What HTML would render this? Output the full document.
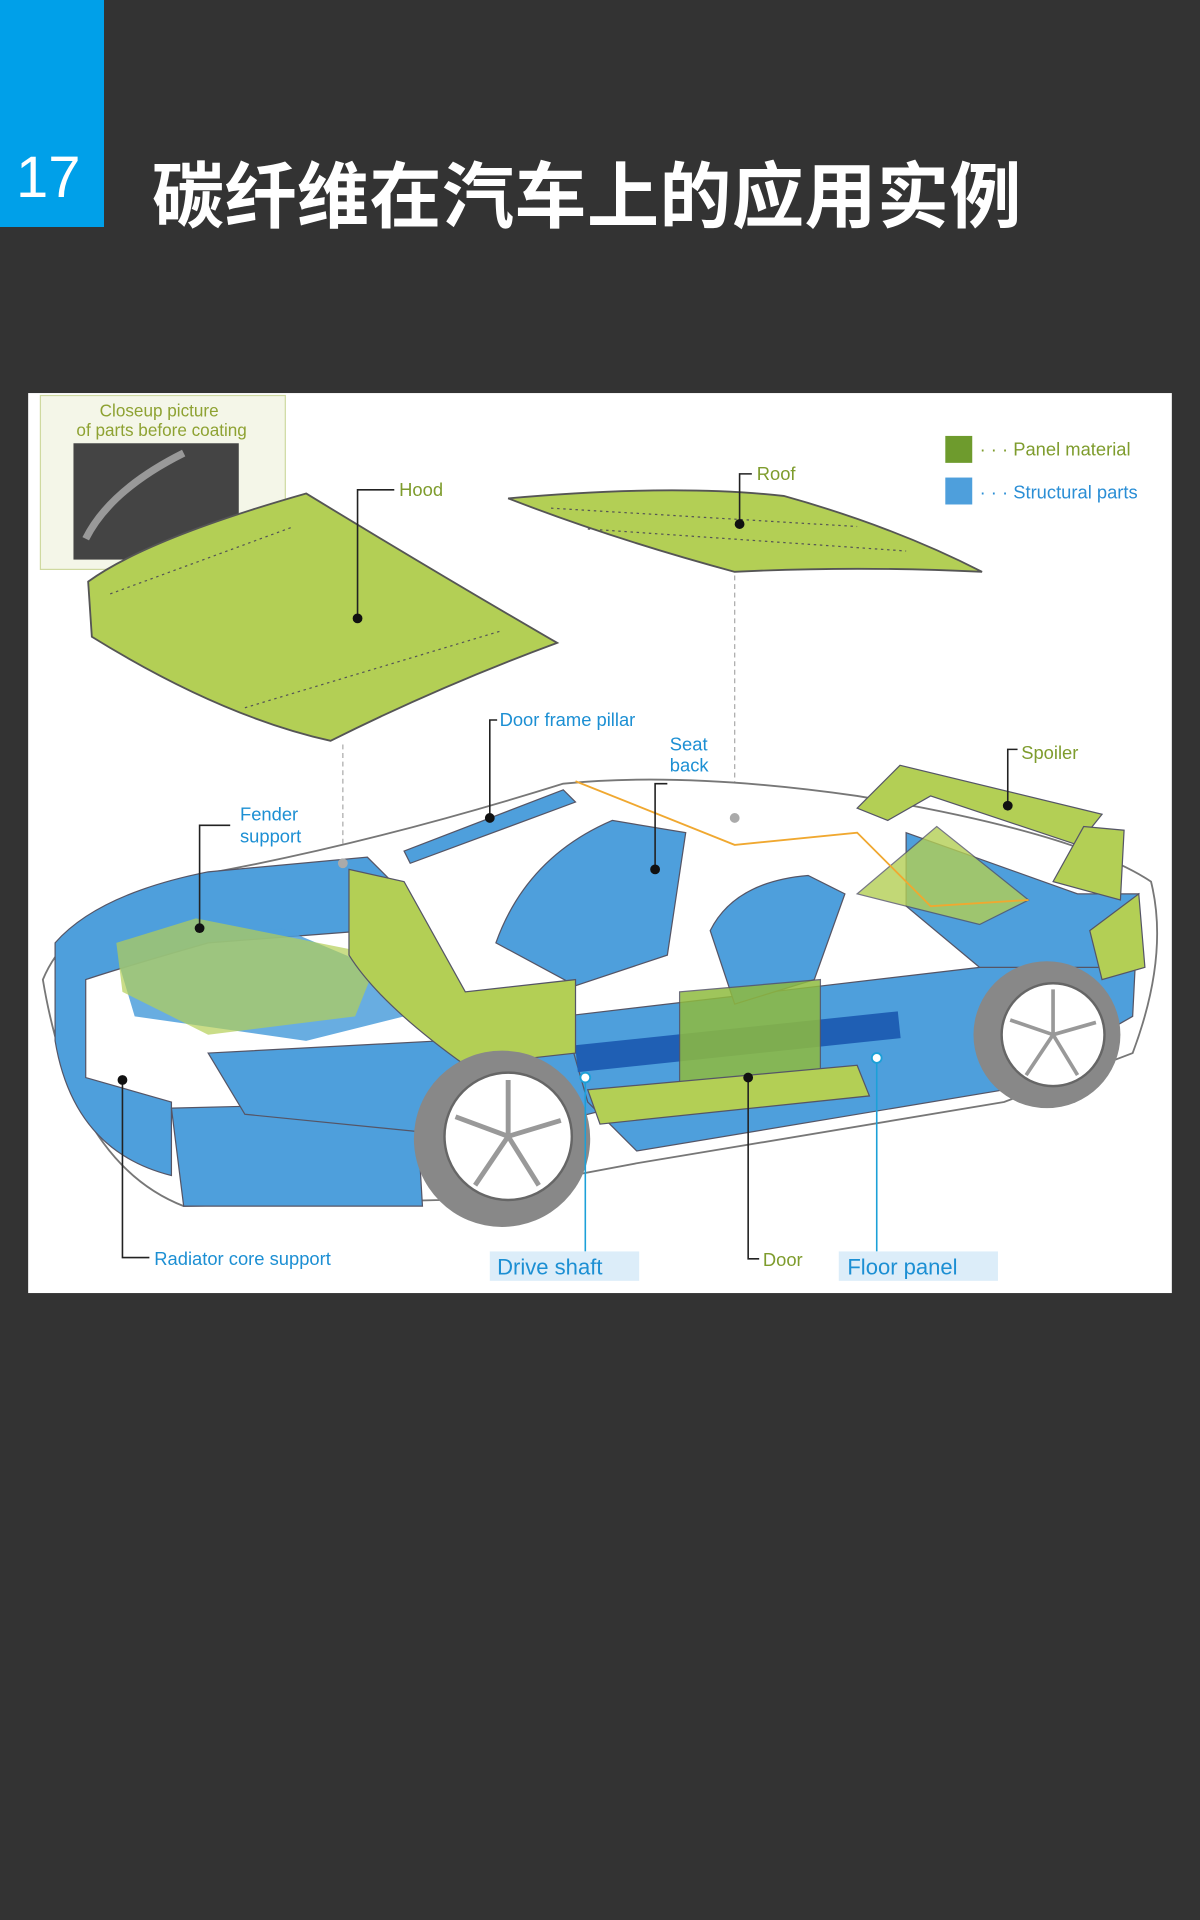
<!DOCTYPE html>
<html><head><meta charset="utf-8"><style>
html,body{margin:0;padding:0}
body{width:1200px;height:1920px;background:#333333;position:relative;overflow:hidden;font-family:"Liberation Sans","Noto Sans CJK SC",sans-serif}
.num{position:absolute;left:0;top:0;width:104px;height:227px;background:#00a0e9}
.num span{position:absolute;left:16px;top:146px;color:#fff;font-size:58px;line-height:64px}
.title{position:absolute;left:152px;top:151px;color:#fff;font-size:72px;font-weight:bold;line-height:80px;white-space:nowrap;font-family:"Noto Sans CJK SC",sans-serif;letter-spacing:0.5px}
svg{position:absolute;left:0;top:0}
</style></head><body>
<div class="num"><span>17</span></div>
<div class="title">碳纤维在汽车上的应用实例</div>
<svg width="1200" height="1920" viewBox="0 0 980 1568" font-family="Liberation Sans, sans-serif">
<rect x="23" y="321" width="934" height="735" fill="#fff"/>
<rect x="33" y="323" width="200" height="142" fill="#f4f6e8" stroke="#cfd9a0"/>
<polygon points="160,465 185,488 180,465" fill="#f4f6e8" stroke="#cfd9a0"/>
<text x="130" y="340" font-size="14" fill="#8ea232" text-anchor="middle">Closeup picture</text>
<text x="132" y="356" font-size="14" fill="#8ea232" text-anchor="middle">of parts before coating</text>
<rect x="60" y="362" width="135" height="95" fill="#444"/>
<path d="M70 440 Q90 400 150 370" stroke="#999" stroke-width="6" fill="none"/>
<path d="M72 475 Q120 440 250 403 Q360 470 455 525 Q360 560 270 605 Q180 585 75 520 Z" fill="#b3cf55" stroke="#555" stroke-width="1.5"/>
<path d="M90 485 L240 430 M200 578 L410 515" stroke="#555" stroke-dasharray="2,3"/>
<path d="M415 407 Q550 395 640 405 Q730 430 802 467 Q700 462 600 467 Q500 440 415 407 Z" fill="#b3cf55" stroke="#555" stroke-width="1.5"/>
<path d="M450 415 L700 430 M480 432 L740 450" stroke="#555" stroke-dasharray="2,3"/>
<line x1="600" y1="470" x2="600" y2="668" stroke="#aaa" stroke-dasharray="4,3"/>
<line x1="280" y1="608" x2="280" y2="704" stroke="#aaa" stroke-dasharray="4,3"/>
<rect x="772" y="356" width="22" height="22" fill="#6e9b2d"/>
<text x="800" y="372" font-size="15" fill="#7e9c2d">· · · Panel material</text>
<rect x="772" y="390" width="22" height="22" fill="#4e9fdc"/>
<text x="800" y="407" font-size="15" fill="#2a8ed5">· · · Structural parts</text>
<path d="M35 800 Q60 740 160 715 Q300 690 460 640 Q560 630 700 650 Q880 680 940 720 Q955 780 925 860 L820 900 L520 950 L360 980 L150 985 Q60 950 35 800 Z" fill="#fff" stroke="#777" stroke-width="1.5"/>
<path d="M45 770 Q80 730 170 712 L300 700 L330 730 L300 760 L170 770 Q100 790 70 800 L70 880 L140 900 L140 960 Q60 940 45 850 Z" fill="#4e9fdc" stroke="#556"/>
<path d="M95 780 L230 758 L330 800 L330 830 L250 850 L110 830 Z" fill="#4e9fdc" opacity=".85"/>
<path d="M140 905 L340 900 L345 985 L150 985 Z" fill="#4e9fdc" stroke="#556"/>
<path d="M170 860 L360 850 L440 830 L520 900 L400 930 L200 910 Z" fill="#4e9fdc" stroke="#556"/>
<path d="M460 830 L800 790 L850 760 L930 730 L925 830 L820 890 L520 940 L480 900 Z" fill="#4e9fdc" stroke="#556"/>
<path d="M740 680 L880 730 L930 730 L900 790 L800 790 L740 740 Z" fill="#4e9fdc" stroke="#556"/>
<path d="M405 770 Q430 700 500 670 L560 680 L545 780 L470 805 Z" fill="#4e9fdc" stroke="#556"/>
<path d="M580 760 Q600 720 660 715 L690 730 L665 800 L600 820 Z" fill="#4e9fdc" stroke="#556"/>
<path d="M330 695 L460 645 L470 655 L335 705 Z" fill="#4e9fdc" stroke="#556"/>
<rect x="470" y="840" width="265" height="22" fill="#1f5fb4" transform="rotate(-6 600 850)"/>
<path d="M95 770 L160 750 L310 780 L290 830 L170 845 L100 810 Z" fill="#b3cf55" opacity=".7"/>
<path d="M285 710 L330 720 L380 810 L470 800 L470 860 L380 870 Q310 820 285 780 Z" fill="#b3cf55" stroke="#556"/>
<path d="M555 810 L670 800 L670 880 L555 900 Z" fill="#8fbb3f" opacity=".85" stroke="#556"/>
<path d="M480 890 L700 870 L710 895 L490 918 Z" fill="#b3cf55" stroke="#556"/>
<path d="M700 660 L735 625 L900 665 L880 690 L760 650 L725 670 Z" fill="#b3cf55" stroke="#556"/>
<path d="M860 720 L885 675 L918 678 L915 735 Z" fill="#b3cf55" stroke="#556"/>
<path d="M700 730 L765 675 L840 735 L800 755 Z" fill="#b3cf55" opacity=".8" stroke="#556"/>
<path d="M890 760 L930 730 L935 790 L900 800 Z" fill="#b3cf55" stroke="#556"/>
<path d="M470 638 L600 690 L700 680 L760 740 L840 735" stroke="#f0a830" stroke-width="1.5" fill="none"/>
<circle cx="410" cy="930" r="72" fill="#888"/><circle cx="415" cy="928" r="52" fill="#fff" stroke="#666" stroke-width="2"/>
<g stroke="#999" stroke-width="4"><line x1="415" y1="928" x2="415" y2="882"/><line x1="415" y1="928" x2="458" y2="915"/><line x1="415" y1="928" x2="440" y2="968"/><line x1="415" y1="928" x2="388" y2="968"/><line x1="415" y1="928" x2="372" y2="912"/></g>
<circle cx="855" cy="845" r="60" fill="#888"/><circle cx="860" cy="845" r="42" fill="#fff" stroke="#666" stroke-width="2"/>
<g stroke="#999" stroke-width="3"><line x1="860" y1="845" x2="860" y2="808"/><line x1="860" y1="845" x2="895" y2="835"/><line x1="860" y1="845" x2="880" y2="878"/><line x1="860" y1="845" x2="838" y2="878"/><line x1="860" y1="845" x2="825" y2="833"/></g>
<g stroke="#222" stroke-width="1.3" fill="none">
<path d="M292 505 V400 H322"/><path d="M604 428 V387 H614"/>
<path d="M400 668 V588 H406"/><path d="M535 710 V640 H545"/>
<path d="M163 758 V674 H188"/><path d="M823 658 V612 H831"/>
<path d="M100 882 V1027 H122"/><path d="M611 880 V1028 H620"/>
</g>
<g stroke="#1ca0d8" stroke-width="1.3"><line x1="478" y1="880" x2="478" y2="1022"/><line x1="716" y1="864" x2="716" y2="1022"/></g>
<g fill="#111"><circle cx="292" cy="505" r="4"/><circle cx="604" cy="428" r="4"/><circle cx="400" cy="668" r="4"/><circle cx="535" cy="710" r="4"/><circle cx="163" cy="758" r="4"/><circle cx="823" cy="658" r="4"/><circle cx="100" cy="882" r="4"/><circle cx="611" cy="880" r="4"/></g>
<circle cx="478" cy="880" r="4" fill="#fff" stroke="#1ca0d8" stroke-width="1.5"/><circle cx="716" cy="864" r="4" fill="#fff" stroke="#1ca0d8" stroke-width="1.5"/>
<circle cx="280" cy="705" r="4" fill="#aaa"/><circle cx="600" cy="668" r="4" fill="#aaa"/>
<g font-size="15" fill="#7e9c2d"><text x="326" y="405">Hood</text><text x="618" y="392">Roof</text><text x="834" y="620">Spoiler</text><text x="623" y="1034">Door</text></g>
<g font-size="15" fill="#1c8fd3"><text x="408" y="593">Door frame pillar</text><text x="547" y="613">Seat</text><text x="547" y="630">back</text><text x="196" y="670">Fender</text><text x="196" y="688">support</text><text x="126" y="1033">Radiator core support</text></g>
<rect x="400" y="1022" width="122" height="24" fill="#dcedf9"/><rect x="685" y="1022" width="130" height="24" fill="#dcedf9"/>
<g font-size="18" fill="#1c8fd3"><text x="406" y="1041">Drive shaft</text><text x="692" y="1041">Floor panel</text></g>
</svg>
</body></html>
